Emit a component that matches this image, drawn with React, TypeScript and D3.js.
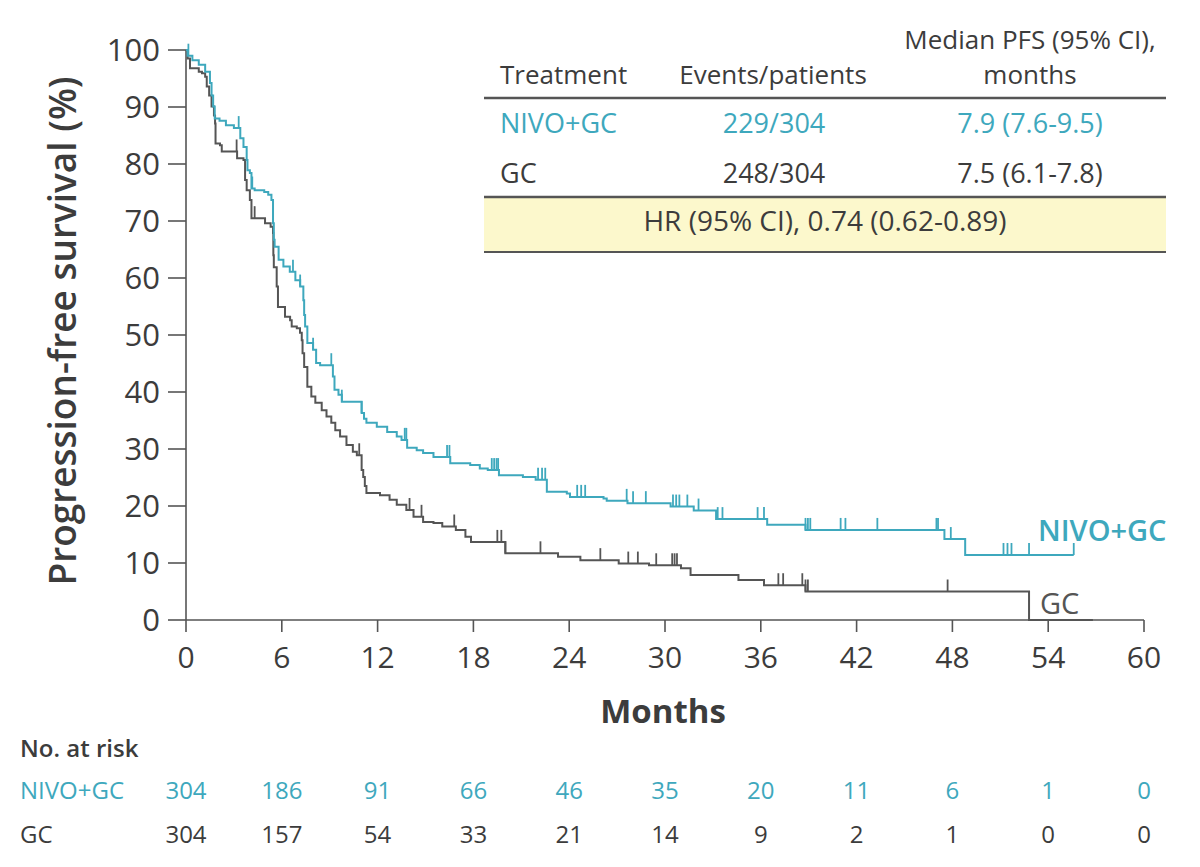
import React from "react";
import * as d3 from "d3";

const nivoTimes = [0.1,0.4,0.8,1.2,1.5,1.6,1.7,1.8,2.1,2.5,3.0,3.4,3.6,3.8,3.85,4.0,4.1,4.3,4.9,5.15,5.35,5.45,5.5,5.55,5.8,6.1,6.5,6.85,7.15,7.35,7.4,7.46,7.6,7.96,8.15,8.4,9.2,9.3,9.55,9.76,11.0,11.15,11.3,11.95,12.6,13.2,13.5,13.85,14.45,14.85,15.5,16.55,17.8,18.4,18.9,19.6,21.1,21.9,22.6,23.85,24.05,26.15,26.35,27.65,30.35,31.8,33.2,36.4,38.8,47.5,48.8];
const nivoSurv = [99.0,98.2,97.4,96.2,94.2,92.0,90.1,88.0,87.6,86.8,86.3,84.5,83.0,80.7,78.9,78.4,75.7,75.4,75.1,74.6,73.7,69.6,66.7,65.5,63.2,62.0,61.1,59.6,58.5,56.1,53.5,51.5,48.6,47.4,45.1,44.7,42.7,40.4,39.5,38.3,36.3,35.3,34.6,33.9,33.0,32.2,31.6,30.2,29.8,29.3,28.6,27.5,27.2,26.6,26.3,25.4,25.1,24.6,22.5,22.2,21.6,21.3,20.9,20.5,19.9,19.2,17.7,16.7,15.8,14.2,11.4];
const nivoEnd = 55.6;
const nivoCensor = [0.15,3.3,4.15,6.7,7.15,7.96,9.1,9.76,11.0,13.7,13.8,16.35,16.5,19.15,19.3,19.45,19.55,22.05,22.3,22.5,24.5,24.75,25.0,27.6,28.0,28.8,30.5,30.7,30.9,31.4,32.1,33.3,33.6,35.8,36.2,38.8,38.95,39.1,41.0,41.3,43.3,47.0,47.1,47.9,51.2,51.45,51.7,52.8,55.6];

const gcTimes = [0.1,0.25,0.8,1.0,1.2,1.3,1.45,1.6,1.75,1.82,1.85,2.13,2.24,3.2,3.6,3.7,3.8,4.0,4.1,4.95,5.3,5.45,5.47,5.5,5.68,5.76,6.2,6.52,6.62,6.94,7.14,7.25,7.3,7.4,7.6,7.85,8.1,8.5,8.8,9.1,9.35,9.65,10.05,10.45,10.7,11.0,11.1,11.2,11.3,12.15,12.75,13.2,13.8,14.25,14.85,15.5,16.05,16.9,17.5,17.85,20.0,23.3,24.7,27.1,29.0,31.0,31.6,34.6,36.2,38.8,52.8];
const gcSurv = [98.5,96.8,96.2,95.9,95.3,93.6,92.0,90.1,88.5,87.1,83.6,83.3,82.2,81.0,80.7,77.2,75.4,73.7,70.5,69.6,69.0,67.9,64.0,61.9,58.5,54.9,53.2,52.6,51.5,51.2,50.4,49.1,46.8,44.4,40.9,39.2,38.1,36.8,35.7,34.6,33.3,32.2,30.7,29.5,28.9,26.3,25.1,23.5,22.3,21.9,21.1,20.2,19.3,18.1,17.2,17.0,16.4,15.8,14.6,13.7,11.7,11.1,10.5,9.9,9.6,9.1,7.9,7.0,6.1,5.0,0];
const gcEnd = 56.8;
const gcCensor = [3.17,4.3,10.85,14.0,14.75,16.8,19.5,19.75,20.0,22.2,25.95,27.7,28.3,29.45,30.45,30.6,30.75,37.1,37.4,38.6,38.8,38.95,47.7];

const xTicks = [0,6,12,18,24,30,36,42,48,54,60];
const yTicks = [0,10,20,30,40,50,60,70,80,90,100];
const riskNivo = [304,186,91,66,46,35,20,11,6,1,0];
const riskGc = [304,157,54,33,21,14,9,2,1,0,0];

const tableHeader = ["Treatment", "Events/patients", "Median PFS (95% CI),", "months"];
const tableNivo = ["NIVO+GC", "229/304", "7.9 (7.6-9.5)"];
const tableGc = ["GC", "248/304", "7.5 (6.1-7.8)"];
const hrText = "HR (95% CI), 0.74 (0.62-0.89)";

const TEAL = "#3ea8bd";
const GRAY = "#555555";
const TEXT = "#3c3c3c";
const FONT = "'Open Sans', sans-serif";

const x = d3.scaleLinear().domain([0, 60]).range([186, 1144]);
const y = d3.scaleLinear().domain([0, 100]).range([620, 50]);

function stepPath(times: number[], surv: number[], end: number) {
  const pts: [number, number][] = [[0, 100]];
  times.forEach((t, i) => pts.push([t, surv[i]]));
  pts.push([end, surv[surv.length - 1]]);
  return d3.line<[number, number]>().x(d => x(d[0])).y(d => y(d[1])).curve(d3.curveStepAfter)(pts) || "";
}

function survAt(times: number[], surv: number[], c: number) {
  let s = 100;
  for (let i = 0; i < times.length; i++) {
    if (times[i] <= c) s = surv[i];
    else break;
  }
  return s;
}

function Curve({ times, surv, end, censor, color }: any) {
  return (
    <g>
      <path d={stepPath(times, surv, end)} fill="none" stroke={color} strokeWidth={2} />
      {censor.map((c: number, i: number) => {
        const s = survAt(times, surv, c);
        return <line key={i} x1={x(c)} x2={x(c)} y1={y(s)} y2={y(s) - 12} stroke={color} strokeWidth={1.8} />;
      })}
    </g>
  );
}

export default function App() {
  const TS = 26;
  return (
    <svg width={1200} height={867} style={{ position: "absolute", left: 0, top: 0, background: "#fff" }} fontFamily={FONT}>
      <rect width={1200} height={867} fill="#ffffff" />
      {/* table */}
      <text x={1030} y={49} textAnchor="middle" fontSize={TS} fontWeight={500} fill={TEXT}>{tableHeader[2]}</text>
      <text x={500} y={84} fontSize={TS} fontWeight={500} fill={TEXT}>{tableHeader[0]}</text>
      <text x={773} y={84} textAnchor="middle" fontSize={TS} fontWeight={500} fill={TEXT}>{tableHeader[1]}</text>
      <text x={1030} y={84} textAnchor="middle" fontSize={TS} fontWeight={500} fill={TEXT}>{tableHeader[3]}</text>
      <line x1={484} x2={1166} y1={98} y2={98} stroke={GRAY} strokeWidth={2.5} />
      <text x={500} y={133} fontSize={TS + 1} fill={TEAL} fontWeight={500}>{tableNivo[0]}</text>
      <text x={774} y={133} textAnchor="middle" fontSize={TS + 1} fill={TEAL} fontWeight={500}>{tableNivo[1]}</text>
      <text x={1030} y={133} textAnchor="middle" fontSize={TS + 1} fill={TEAL} fontWeight={500}>{tableNivo[2]}</text>
      <text x={500} y={183} fontSize={TS + 1} fontWeight={500} fill={TEXT}>{tableGc[0]}</text>
      <text x={774} y={183} textAnchor="middle" fontSize={TS + 1} fontWeight={500} fill={TEXT}>{tableGc[1]}</text>
      <text x={1030} y={183} textAnchor="middle" fontSize={TS + 1} fontWeight={500} fill={TEXT}>{tableGc[2]}</text>
      <rect x={484} y={197} width={682} height={55} fill="#fcf8cc" />
      <line x1={484} x2={1166} y1={197} y2={197} stroke={GRAY} strokeWidth={2.5} />
      <line x1={484} x2={1166} y1={252} y2={252} stroke={GRAY} strokeWidth={2} />
      <text x={825} y={231} textAnchor="middle" fontSize={28} fontWeight={500} fill={TEXT}>{hrText}</text>

      {/* axes */}
      <line x1={x(0)} x2={x(0)} y1={y(100)} y2={y(0)} stroke={GRAY} strokeWidth={1.6} />
      <line x1={x(0)} x2={x(60)} y1={y(0)} y2={y(0)} stroke={GRAY} strokeWidth={1.6} />
      {yTicks.map(t => (
        <g key={"y" + t}>
          <line x1={x(0) - 18} x2={x(0)} y1={y(t)} y2={y(t)} stroke={GRAY} strokeWidth={1.6} />
          <text x={x(0) - 26} y={y(t)} dy="0.35em" textAnchor="end" fontSize={31} fill={TEXT}>{t}</text>
        </g>
      ))}
      {xTicks.map(t => (
        <g key={"x" + t}>
          <line x1={x(t)} x2={x(t)} y1={y(0)} y2={y(0) + 12} stroke={GRAY} strokeWidth={1.6} />
          <text x={x(t)} y={668} textAnchor="middle" fontSize={30} fill={TEXT}>{t}</text>
        </g>
      ))}
      <text transform="translate(76,331) rotate(-90)" textAnchor="middle" fontSize={37} fontWeight={600} fill={TEXT}>Progression-free survival (%)</text>
      <text x={663} y={723} textAnchor="middle" fontSize={33} fontWeight={700} fill={TEXT}>Months</text>

      {/* curves */}
      <Curve times={gcTimes} surv={gcSurv} end={gcEnd} censor={gcCensor} color={GRAY} />
      <Curve times={nivoTimes} surv={nivoSurv} end={nivoEnd} censor={nivoCensor} color={TEAL} />
      <text x={1038} y={541} fontSize={29} fontWeight={600} fill={TEAL}>NIVO+GC</text>
      <text x={1040} y={614} fontSize={29} fontWeight={500} fill={GRAY}>GC</text>

      {/* at risk */}
      <text x={20} y={757} fontSize={24} fontWeight={600} fill={TEXT}>No. at risk</text>
      <text x={20} y={799} fontSize={24} fill={TEAL}>NIVO+GC</text>
      <text x={20} y={843} fontSize={24} fill={TEXT}>GC</text>
      {riskNivo.map((v, i) => (
        <text key={"rn" + i} x={x(xTicks[i])} y={799} textAnchor="middle" fontSize={24} fill={TEAL}>{v}</text>
      ))}
      {riskGc.map((v, i) => (
        <text key={"rg" + i} x={x(xTicks[i])} y={843} textAnchor="middle" fontSize={24} fill={TEXT}>{v}</text>
      ))}
    </svg>
  );
}
